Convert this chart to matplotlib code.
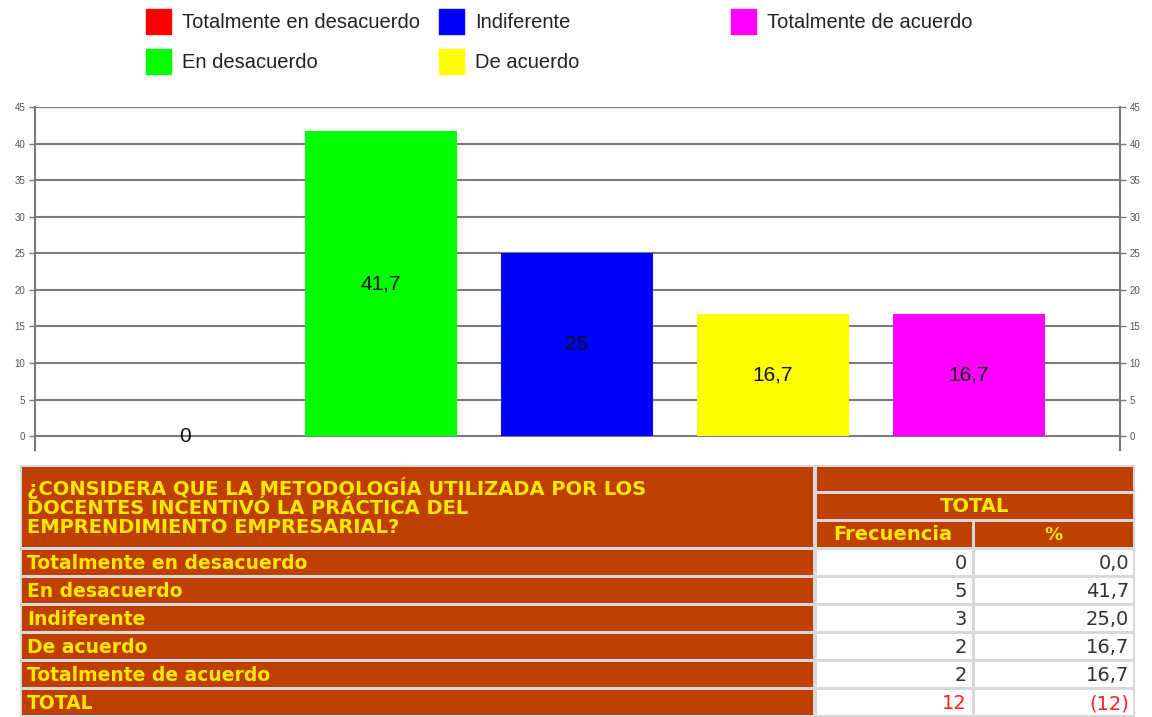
import matplotlib
matplotlib.use("Agg")
import matplotlib.pyplot as plt
from matplotlib.patches import Rectangle

# ----------------------------------------------------
# Data
# ----------------------------------------------------
categories = [
    "Totalmente en desacuerdo",
    "En desacuerdo",
    "Indiferente",
    "De acuerdo",
    "Totalmente de acuerdo",
]
percent = [0, 41.7, 25, 16.7, 16.7]
bar_labels = ["0", "41,7", "25", "16,7", "16,7"]
frequency = [0, 5, 3, 2, 2]
percent_text = ["0,0", "41,7", "25,0", "16,7", "16,7"]
total_freq = "12"
total_pct = "(12)"
question = ("¿CONSIDERA QUE LA METODOLOGÍA UTILIZADA POR LOS\n"
            "DOCENTES INCENTIVÓ LA PRÁCTICA DEL\n"
            "EMPRENDIMIENTO EMPRESARIAL?")
yticks = [0, 5, 10, 15, 20, 25, 30, 35, 40, 45]

bar_colors = ["#FF0000", "#00FF00", "#0000FF", "#FFFF00", "#FF00FF"]
BROWN = "#BF3F00"
YELLOW = "#FFE800"
GRID = "#7a7a7a"

W, H = 1152, 717
fig = plt.figure(figsize=(W / 100, H / 100), dpi=100)

# ----------------------------------------------------
# Bar chart
# ----------------------------------------------------
ax = fig.add_axes([35 / W, 1 - 450 / H, (1120 - 35) / W, (450 - 107) / H])
x = list(range(len(categories)))
ax.bar(x, percent, width=0.775, color=bar_colors, zorder=3)
ax.set_xlim(-0.765, 4.77)
ax.set_ylim(-1.9, 45)
ax.set_yticks(yticks)
ax.set_xticks([])
ax.yaxis.grid(True, color=GRID, lw=1.5, zorder=1)
ax.tick_params(axis="y", which="both", left=True, right=True,
               labelleft=True, labelright=True, length=4, width=1,
               color=GRID, labelsize=7, labelcolor="#555555", pad=3)
for lab in ax.get_yticklabels():
    lab.set_fontfamily("Liberation Sans")
for s in ["top", "bottom"]:
    ax.spines[s].set_visible(False)
for s in ["left", "right"]:
    ax.spines[s].set_color(GRID)
    ax.spines[s].set_linewidth(1.5)

for xi, v, lab in zip(x, percent, bar_labels):
    ax.text(xi, v / 2, lab, ha="center", va="center", fontsize=15,
            family="Liberation Sans", color="#111111", zorder=4)

# ----------------------------------------------------
# Legend (three fixed-width columns, filled column-wise)
# ----------------------------------------------------
leg_x = [146, 439, 731]
leg_y = [21, 61]
for i, (name, c) in enumerate(zip(categories, bar_colors)):
    col, row = divmod(i, 2)
    px, py = leg_x[col], leg_y[row]
    fig.add_artist(Rectangle((px / W, 1 - (py + 13) / H), 25 / W, 25 / H,
                             transform=fig.transFigure, color=c))
    fig.text((px + 36) / W, 1 - (py + 1) / H, name, ha="left", va="center",
             fontsize=14.5, family="Liberation Sans", color="#222222")

# ----------------------------------------------------
# Table (pixel coordinates)
# ----------------------------------------------------
tab = fig.add_axes([0, 0, 1, 1])
tab.set_xlim(0, W)
tab.set_ylim(H, 0)
tab.axis("off")
tab.patch.set_visible(False)


def cell(x0, y0, x1, y1, fc):
    tab.add_patch(Rectangle((x0, y0), x1 - x0, y1 - y0, facecolor=fc,
                            edgecolor="none"))


TFONT = "DejaVu Sans"
# light grey grid background for the whole table
cell(20, 465, 1135, 717, "#d8d8d8")

# header
cell(22, 467, 813, 547, BROWN)
tab.text(27, 507, question, ha="left", va="center", fontsize=14,
         family=TFONT, color=YELLOW, linespacing=0.98, fontweight="bold")
cell(817, 467, 1133, 491, BROWN)
cell(817, 494, 1133, 519, BROWN)
tab.text(975, 507, "TOTAL", ha="center", va="center", fontsize=14,
         family=TFONT, color=YELLOW, fontweight="bold")
cell(817, 522, 972, 547, BROWN)
cell(975, 522, 1133, 547, BROWN)
tab.text(893, 535, "Frecuencia", ha="center", va="center", fontsize=14,
         family=TFONT, color=YELLOW, fontweight="bold")
tab.text(1053, 535, "%", ha="center", va="center", fontsize=13,
         family=TFONT, color=YELLOW, fontweight="bold")

# body rows
row_names = categories + ["TOTAL"]
freq_cells = [str(f) for f in frequency] + [total_freq]
pct_cells = percent_text + [total_pct]
row_top = 550
pitch = 28
for i, (name, f, p) in enumerate(zip(row_names, freq_cells, pct_cells)):
    y0 = row_top + i * pitch
    y1 = min(y0 + pitch - 3, H)
    yc = (y0 + y1) / 2 + 1
    last = i == len(row_names) - 1
    cell(22, y0, 813, y1, BROWN)
    cell(817, y0, 972, y1, "white")
    cell(975, y0, 1133, y1, "white")
    tab.text(27, yc, name, ha="left", va="center", fontsize=13.5,
             family=TFONT, color=YELLOW, fontweight="bold")
    tc = "#FF2020" if last else "#333333"
    tab.text(967, yc, f, ha="right", va="center", fontsize=14,
             family=TFONT, color=tc)
    tab.text(1129, yc, p, ha="right", va="center", fontsize=14,
             family=TFONT, color=tc)

fig.savefig("out.png", dpi=100)
